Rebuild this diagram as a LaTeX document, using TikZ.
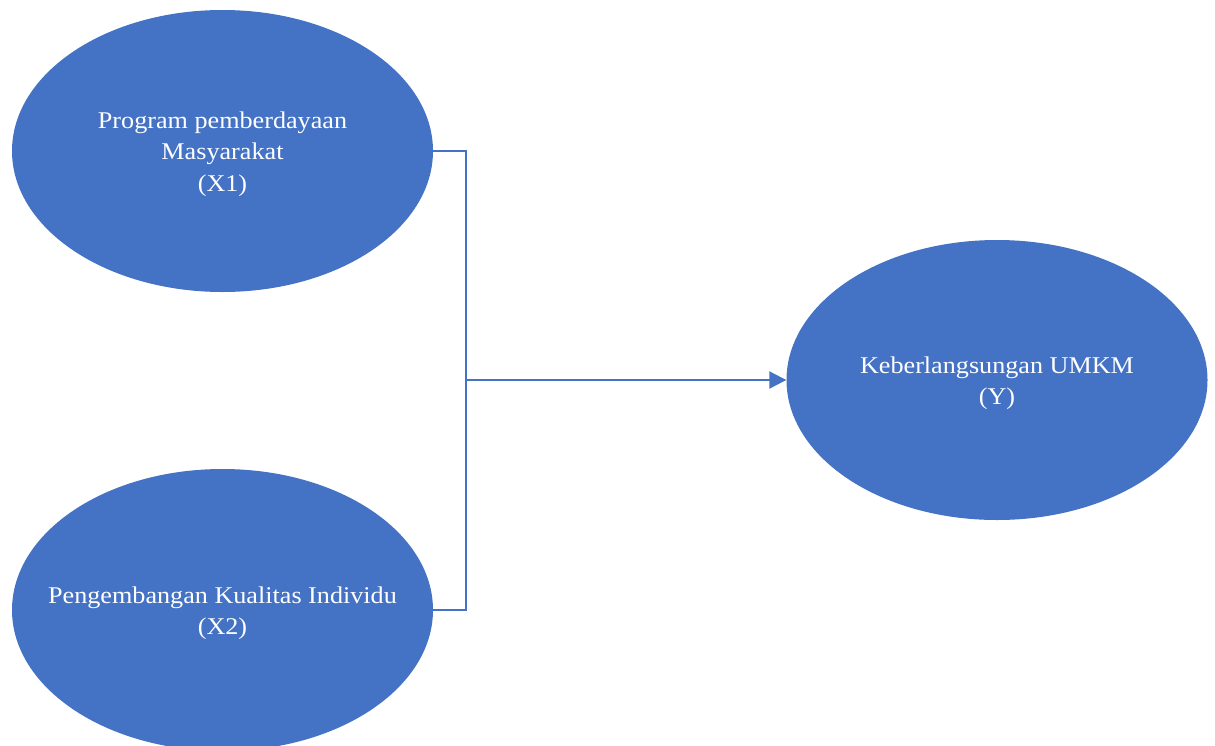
\documentclass[tikz,border=0pt]{standalone}
\usepackage{fontspec}
\setmainfont{Liberation Serif}[FakeStretch=1.09]
\usetikzlibrary{shapes.geometric,arrows.meta}
\definecolor{blu}{HTML}{4472C4}
\tikzset{
  var/.style={ellipse, fill=blu, minimum width=421pt, minimum height=282pt, inner sep=0pt},
  txt/.style={text=white, align=center, inner sep=0pt, yshift=-3pt, font=\fontsize{24}{31.5}\selectfont},
  conn/.style={draw=blu, line width=2pt},
}
\begin{document}
\begin{tikzpicture}[x=1pt,y=-1pt]
\useasboundingbox (0,0) rectangle (1215,745);
\node[var] (x1) at (222.5,151) {};
\node[txt] (x1t) at (x1.center) {Program pemberdayaan\\Masyarakat\\(X1)};
\node[var] (x2) at (222.5,610) {};
\node[txt] (x2t) at (x2.center) {Pengembangan Kualitas Individu\\(X2)};
\node[var, minimum height=280pt] (y) at (997,380) {};
\node[txt] (yt) at (y.center) {Keberlangsungan UMKM\\(Y)};
\coordinate (j) at (466,380);
\draw[conn] (x1.east) -| (j) |- (x2.east);
\draw[conn, -{Triangle[length=17pt,width=17pt]}] (j) -- (y.west);
\end{tikzpicture}
\end{document}
